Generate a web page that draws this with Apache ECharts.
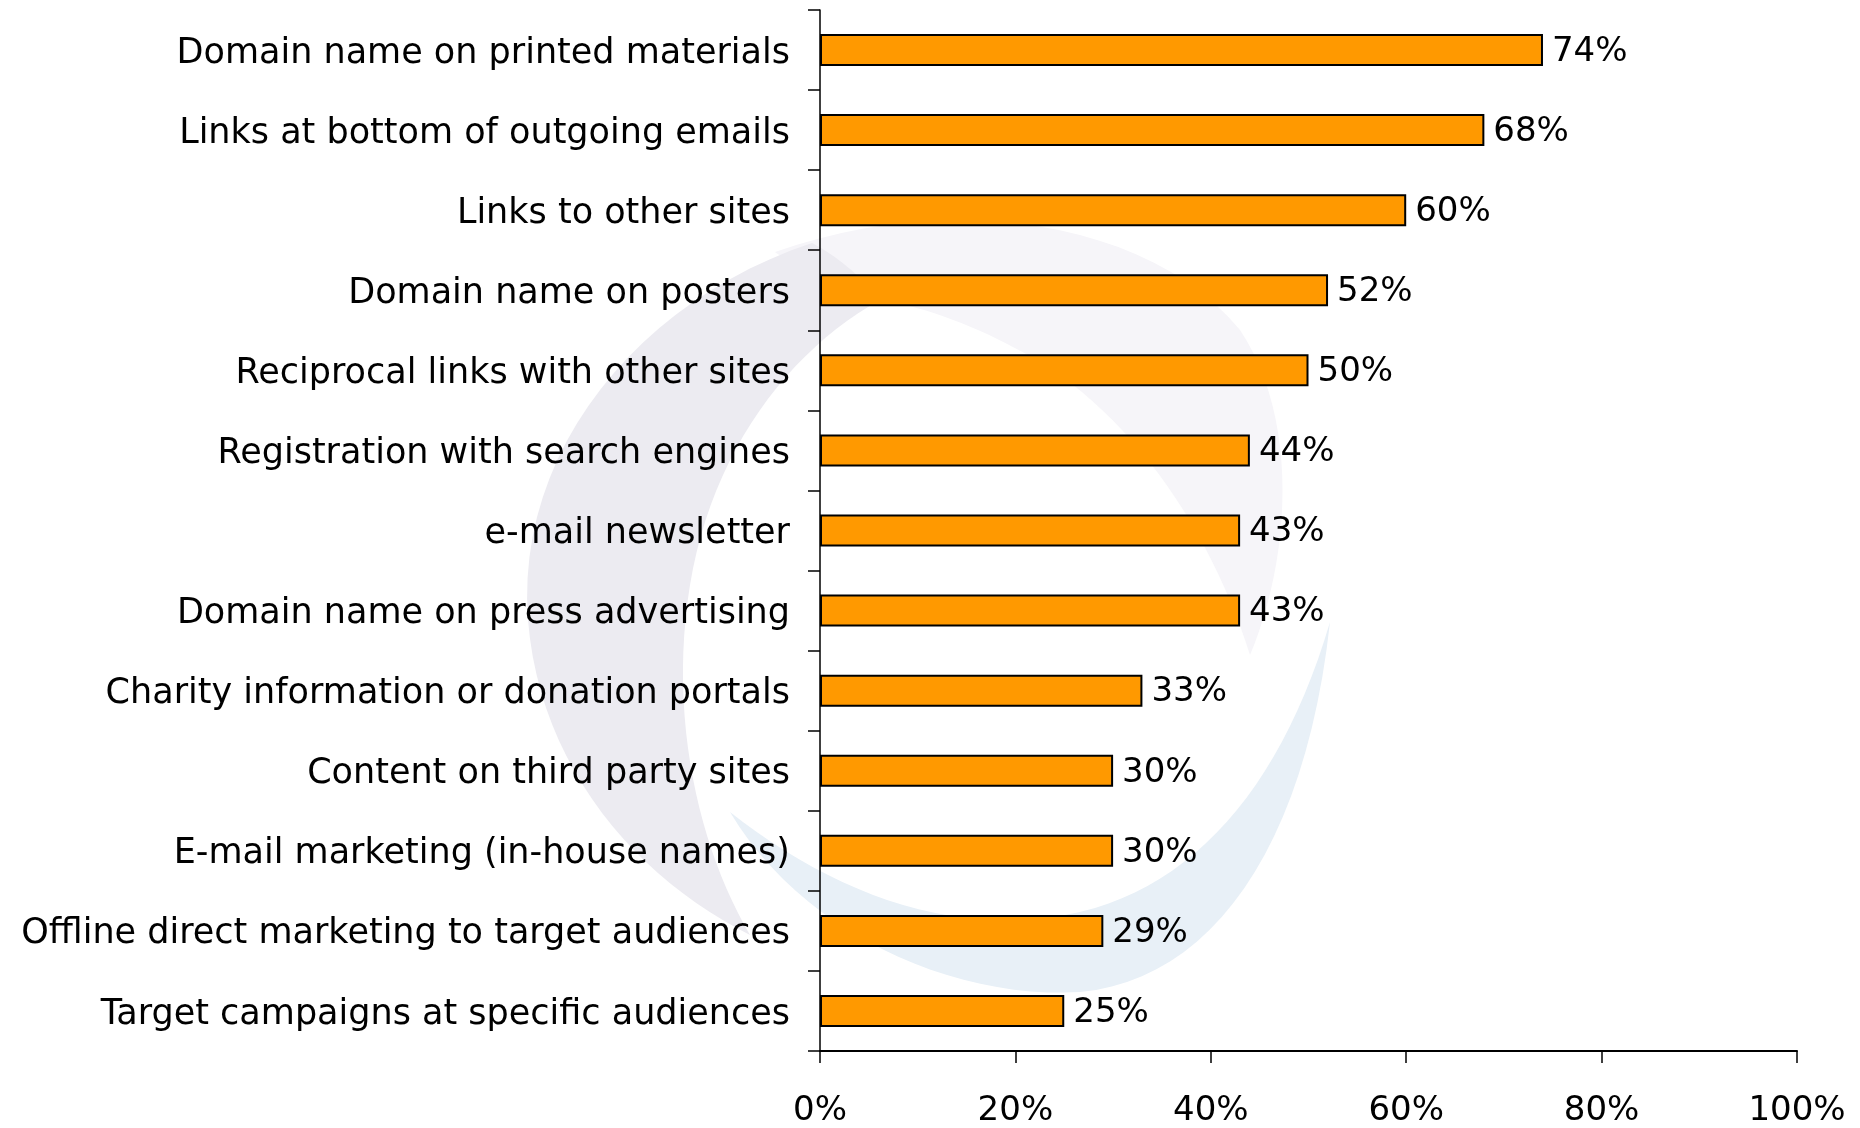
<!DOCTYPE html>
<html>
<head>
<meta charset="utf-8">
<title>Promotion methods</title>
<script src="https://cdn.jsdelivr.net/npm/echarts@6/dist/echarts.min.js"></script>
<style>
  html, body { margin: 0; padding: 0; background: #ffffff; }
  #chart { width: 1860px; height: 1128px; }
</style>
</head>
<body>
<div id="chart"></div>
<script>
// Methods used to promote the website (share of respondents, %)
const categories = [
  'Domain name on printed materials',
  'Links at bottom of outgoing emails',
  'Links to other sites',
  'Domain name on posters',
  'Reciprocal links with other sites',
  'Registration with search engines',
  'e-mail newsletter',
  'Domain name on press advertising',
  'Charity information or donation portals',
  'Content on third party sites',
  'E-mail marketing (in-house names)',
  'Offline direct marketing to target audiences',
  'Target campaigns at specific audiences'
];
const shares = [74, 68, 60, 52, 50, 44, 43, 43, 33, 30, 30, 29, 25];
const axisMin = 0;
const axisMax = 100;
const axisStep = 20;

const FONT = '"DejaVu Sans", Verdana, sans-serif';

// Turn a chain of cubic Bezier segments into polygon points.
// segs: [x0, y0, then repeated c1x, c1y, c2x, c2y, x, y]
function bezierOutline(segs, steps) {
  const pts = [];
  let x0 = segs[0], y0 = segs[1];
  pts.push([x0, y0]);
  for (let i = 2; i + 5 < segs.length; i += 6) {
    const c1x = segs[i], c1y = segs[i + 1], c2x = segs[i + 2], c2y = segs[i + 3], x1 = segs[i + 4], y1 = segs[i + 5];
    for (let s = 1; s <= steps; s++) {
      const t = s / steps, u = 1 - t;
      pts.push([
        u * u * u * x0 + 3 * u * u * t * c1x + 3 * u * t * t * c2x + t * t * t * x1,
        u * u * u * y0 + 3 * u * u * t * c1y + 3 * u * t * t * c2y + t * t * t * y1
      ]);
    }
    x0 = x1; y0 = y1;
  }
  return pts;
}

// faint swoosh logo in the background
const logoArcTop = bezierOutline([775, 252, 950, 190, 1150, 220, 1240, 330, 1300, 420, 1290, 560, 1250, 655, 1215, 545, 1150, 440, 1060, 375, 990, 328, 910, 300, 860, 298, 830, 290, 800, 270, 775, 252], 24);
const logoArcLeft = bezierOutline([812, 243, 640, 300, 515, 450, 528, 620, 540, 770, 640, 880, 750, 935, 700, 850, 668, 720, 690, 585, 712, 450, 790, 350, 880, 300, 860, 275, 835, 255, 812, 243], 24);
const logoArcLow = bezierOutline([730, 812, 800, 930, 950, 1000, 1080, 992, 1210, 980, 1305, 850, 1330, 622, 1285, 775, 1205, 875, 1095, 908, 965, 945, 835, 895, 730, 812], 24);

const watermark = [
  { type: 'polygon', z: -10, silent: true, shape: { points: logoArcTop }, style: { fill: '#f6f5f9' } },
  { type: 'polygon', z: -9, silent: true, shape: { points: logoArcLeft }, style: { fill: '#ecebf1' } },
  { type: 'polygon', z: -9, silent: true, shape: { points: logoArcLow }, style: { fill: '#e8f0f7' } }
];

const chart = echarts.init(document.getElementById('chart'), null, { renderer: 'canvas' });

chart.setOption({
  backgroundColor: '#ffffff',
  animation: false,
  textStyle: { fontFamily: FONT, color: '#000' },
  graphic: { elements: watermark },
  grid: { left: 820, right: 63, top: 10, bottom: 76, containLabel: false },
  xAxis: {
    type: 'value',
    min: axisMin,
    max: axisMax,
    interval: axisStep,
    axisLine: { show: true, lineStyle: { color: '#000', width: 2 } },
    axisTick: { show: true, length: 12, lineStyle: { color: '#000', width: 1.5 } },
    splitLine: { show: false },
    axisLabel: {
      margin: 43,
      fontFamily: FONT,
      fontSize: 34,
      color: '#000',
      formatter: '{value}%'
    }
  },
  yAxis: {
    type: 'category',
    data: categories,
    inverse: true,
    axisLine: { show: true, lineStyle: { color: '#000', width: 1.5 } },
    axisTick: { show: true, length: 12, alignWithLabel: false, lineStyle: { color: '#000', width: 1.5 } },
    splitLine: { show: false },
    axisLabel: {
      margin: 30,
      color: '#000',
      formatter: function (name) { return '{name|' + name + '}'; },
      rich: {
        name: {
          fontFamily: FONT,
          fontSize: 35,
          color: '#000',
          lineHeight: 42,
          padding: [7, 0, 0, 0]
        }
      }
    }
  },
  series: [{
    type: 'bar',
    data: shares,
    barWidth: 32,
    itemStyle: { color: '#ff9900', borderColor: '#000', borderWidth: 2 },
    label: {
      show: true,
      position: 'right',
      distance: 9,
      offset: [0, 2],
      fontFamily: FONT,
      fontSize: 34,
      color: '#000',
      formatter: '{c}%'
    }
  }]
});
</script>
</body>
</html>
